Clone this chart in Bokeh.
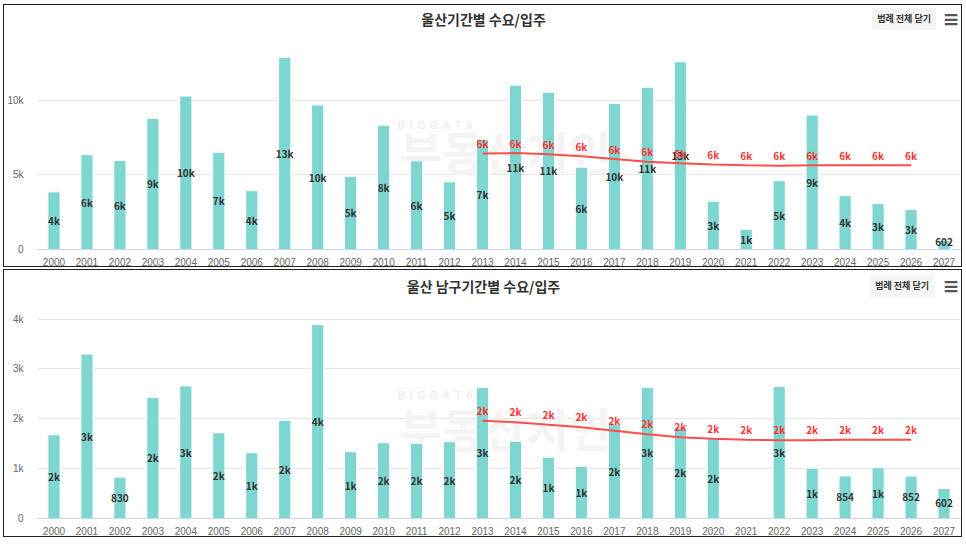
from bokeh.plotting import figure
from bokeh.layouts import column
from bokeh.models import ColumnDataSource, FixedTicker
from bokeh.core.properties import value
from bokeh.embed import file_html
from bokeh.resources import INLINE

years = ["2000", "2001", "2002", "2003", "2004", "2005", "2006", "2007", "2008", "2009",
         "2010", "2011", "2012", "2013", "2014", "2015", "2016", "2017", "2018", "2019",
         "2020", "2021", "2022", "2023", "2024", "2025", "2026", "2027"]

# 울산 입주 (bars)
ulsan_supply = [3870, 6360, 5970, 8800, 10300, 6530, 3950, 12900, 9700, 4900,
                8340, 5950, 4540, 7400, 11030, 10550, 5520, 9800, 10890, 12600,
                3240, 1360, 4620, 9020, 3610, 3080, 2680, 602]
# 수요 (line)
demand_years = ["2013", "2014", "2015", "2016", "2017", "2018", "2019",
                "2020", "2021", "2022", "2023", "2024", "2025", "2026"]
ulsan_demand = [6440, 6470, 6400, 6250, 6070, 5890, 5780,
                5710, 5650, 5620, 5650, 5650, 5650, 5650]

# 울산 남구 입주 (bars), 2021 has no value
namgu_supply = [1680, 3300, 830, 2430, 2660, 1720, 1320, 1970, 3890, 1340,
                1520, 1510, 1540, 2630, 1550, 1230, 1050, 1890, 2630, 1830,
                1610, None, 2650, 1010, 854, 1020, 852, 602]
namgu_demand = [1960, 1930, 1880, 1830, 1760, 1690, 1630,
                1600, 1580, 1570, 1570, 1580, 1580, 1580]

ulsan_ticks = [0, 5000, 10000]
ulsan_tick_labels = ["0", "5k", "10k"]
namgu_ticks = [0, 1000, 2000, 3000, 4000]
namgu_tick_labels = ["0", "1k", "2k", "3k", "4k"]

titles = ["울산기간별 수요/입주", "울산 남구기간별 수요/입주"]
button_text = "범례 전체 닫기"
watermark_small = "\u00a0\u00a0".join("BIGDATA")
watermark_big = "부동산지인"

BAR = "#7dd6cf"
RED = "#ff4d4d"
FONT = "Noto Sans CJK KR"
TICK_FONT = "Liberation Sans"
W = 959


def k_label(v):
    if v >= 1000:
        return f"{int(v / 1000 + 0.5)}k"
    return str(v)


def build(title, supply, demand, y_end, ticks, tick_labels, h, bot_b,
          min_lab, red_lift, wm_small_y, wm_big_y, head_y, btn_off):
    p = figure(x_range=years, y_range=(0, y_end), width=W, height=h,
               output_backend="svg", toolbar_location=None,
               min_border_left=33, min_border_right=3,
               min_border_top=2, min_border_bottom=bot_b,
               outline_line_color=None,
               styles={"border": "1px solid #222"})

    # watermark
    p.text(x=["2014"], y=[wm_small_y], text=[watermark_small], x_offset=-118,
           text_font=value(FONT), text_font_size="11px", text_color="#e8e8e8",
           text_align="left", text_baseline="middle")
    p.text(x=["2014"], y=[wm_big_y], text=[watermark_big], x_offset=-10,
           text_font=value(FONT), text_font_size="46px", text_font_style="bold",
           text_color="#f4f4f4", text_align="center", text_baseline="middle")

    bx = [y for y, v in zip(years, supply) if v is not None]
    bv = [v for v in supply if v is not None]
    src = ColumnDataSource(dict(x=bx, top=bv,
                                ly=[max(v / 2, min_lab) for v in bv],
                                lt=[k_label(v) for v in bv]))
    p.vbar(x="x", top="top", width=0.37, source=src, fill_color=BAR,
           line_color="white", line_width=1)
    p.line(demand_years, demand, line_color=RED, line_width=2)

    p.text(x="x", y="ly", text="lt", source=src, text_font=value(FONT),
           text_font_size="10px", text_font_style="bold", text_color="#333333",
           text_align="center", text_baseline="middle")
    rsrc = ColumnDataSource(dict(x=demand_years, y=[d + red_lift for d in demand],
                                 t=[k_label(d) for d in demand]))
    p.text(x="x", y="y", text="t", source=rsrc, text_font=value(FONT),
           text_font_size="10px", text_font_style="bold", text_color="#ff3333",
           text_align="center", text_baseline="middle")

    # header: title, legend button, menu icon
    p.text(x=["2013"], y=[head_y], text=[title], x_offset=1,
           text_font=value(FONT), text_font_size="14px", text_font_style="bold",
           text_color="#333333", text_align="center", text_baseline="middle")
    p.text(x=["2026"], y=[head_y], text=[button_text], x_offset=btn_off,
           text_font=value(FONT), text_font_size="9px", text_font_style="bold",
           text_color="#333333", text_align="center", text_baseline="middle",
           background_fill_color="#f5f5f5", padding=5)
    p.text(x=["2027"], y=[head_y], text=["≡"], x_offset=7,
           text_font=value("DejaVu Sans"), text_font_size="20px",
           text_font_style="bold", text_color="#555555",
           text_align="center", text_baseline="middle")

    p.xgrid.grid_line_color = None
    p.ygrid.grid_line_color = "#e6e6e6"
    p.yaxis.ticker = FixedTicker(ticks=ticks)
    p.yaxis.major_label_overrides = {t: l for t, l in zip(ticks, tick_labels)}
    for ax in (p.xaxis, p.yaxis):
        ax.major_tick_line_color = None
        ax.minor_tick_line_color = None
        ax.major_label_text_color = "#666666"
        ax.major_label_text_font = TICK_FONT
        ax.major_label_text_font_size = "10px"
    p.yaxis.axis_line_color = None
    p.yaxis.major_label_standoff = 8
    p.xaxis.axis_line_color = "#ccd6eb"
    p.xaxis.major_label_standoff = 2
    p.x_range.range_padding = 0
    return p


p1 = build(titles[0], ulsan_supply, ulsan_demand, 16240, ulsan_ticks, ulsan_tick_labels,
           263, 16, 470, 670, 8450, 6700, 15500, -7)
p2 = build(titles[1], namgu_supply, namgu_demand, 4935, namgu_ticks, namgu_tick_labels,
           268, 20, 140, 211, 2500, 1840, 4670, -9)

layout = column(p1, p2, spacing=2, margin=(4, 0, 0, 3))
open("out.html", "w").write(file_html(layout, INLINE))
